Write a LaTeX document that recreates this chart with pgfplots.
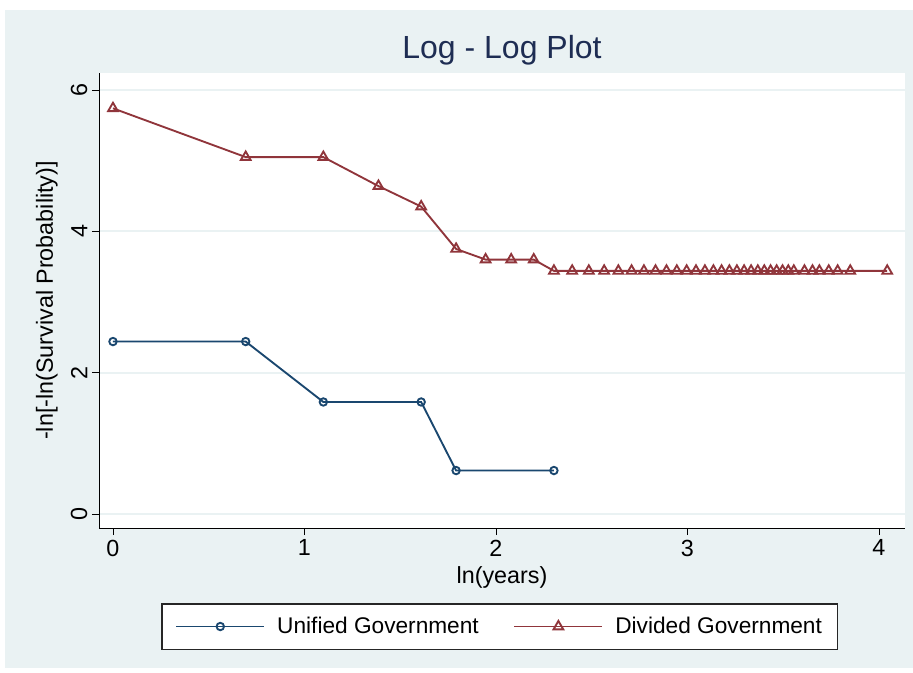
\documentclass[border=0pt]{standalone}
\usepackage{pgfplots}
\pgfplotsset{compat=1.18}
\usepackage{fontspec}
\setmainfont{Liberation Sans}
\definecolor{bg}{RGB}{234,242,243}
\definecolor{s1}{RGB}{26,71,111}
\definecolor{s2}{RGB}{144,53,59}
\definecolor{ttl}{RGB}{30,45,83}
\begin{document}
\begin{tikzpicture}
\fill[white] (0pt,0pt) rectangle (684.75pt,504pt);
\fill[bg] (3.75pt,3pt) rectangle (684.75pt,496.5pt);
\node[font=\fontsize{24}{28}\selectfont, text=ttl] at (376.5pt,466.5pt) {Log - Log Plot};
\begin{axis}[
  at={(74.25pt,108pt)}, anchor=south west,
  scale only axis, width=604.5pt, height=341.25pt,
  xmin=-0.073, xmax=4.136, ymin=-0.198, ymax=6.24,
  axis background/.style={fill=white},
  axis x line*=bottom, axis y line*=left,
  axis line style={black, line width=0.6pt, -},
  xtick={0,1,2,3,4}, ytick={0,2,4,6},
  tick align=outside, major tick length=5.25pt,
  tick style={black, line width=0.6pt},
  ymajorgrids, grid style={bg, line width=1.5pt},
  /pgf/number format/assume math mode=true,
  ticklabel style={font=\fontsize{17.5}{20}\selectfont},
  yticklabel style={rotate=90, anchor=south},
  xlabel={ln(years)}, ylabel={-ln[-ln(Survival Probability)]},
  label style={font=\fontsize{17.5}{20}\selectfont},
  xlabel style={yshift=-1pt},
  ylabel style={yshift=3pt},
  legend columns=2,
  legend style={at={(0.4975,-0.2165)}, anchor=center, draw=black!85, line width=0.8pt,
    fill=white, font=\fontsize{17}{20}\selectfont, inner xsep=10pt, inner ysep=8pt,
    /tikz/every even column/.append style={column sep=24pt}},
  legend image code/.code={%
    \draw[mark repeat=2,mark phase=2,#1] plot coordinates {(0pt,0pt) (33pt,0pt) (66pt,0pt)};},
]
\addplot[s1, line width=1.4pt, mark=o, mark size=2.8pt, mark options={fill=white, line width=1.4pt}]
coordinates {
(0,2.44) (0.6931,2.44) (1.0986,1.585) (1.6094,1.585) (1.7918,0.615) (2.3026,0.615)
};
\addlegendentry{\hspace{7pt}Unified Government}
\addplot[s2, line width=1.4pt, mark=triangle, mark size=4.2pt, mark options={fill=white, line width=1.4pt}]
coordinates {
(0,5.74) (0.6931,5.05) (1.0986,5.05) (1.3863,4.64) (1.6094,4.35) (1.7918,3.75)
(1.9459,3.60) (2.0794,3.60) (2.1972,3.60) (2.3026,3.44) (2.3979,3.44) (2.4849,3.44)
(2.5649,3.44) (2.6391,3.44) (2.7081,3.44) (2.7726,3.44) (2.8332,3.44) (2.8904,3.44)
(2.9444,3.44) (2.9957,3.44) (3.0445,3.44) (3.0910,3.44) (3.1355,3.44) (3.1781,3.44)
(3.2189,3.44) (3.2581,3.44) (3.2958,3.44) (3.3322,3.44) (3.3673,3.44) (3.4012,3.44)
(3.4340,3.44) (3.4657,3.44) (3.4965,3.44) (3.5264,3.44) (3.5553,3.44) (3.6109,3.44)
(3.6530,3.44) (3.6889,3.44) (3.7377,3.44) (3.7842,3.44) (3.8501,3.44) (4.0431,3.44)
};
\addlegendentry{\hspace{7pt}Divided Government}
\end{axis}
\end{tikzpicture}
\end{document}
